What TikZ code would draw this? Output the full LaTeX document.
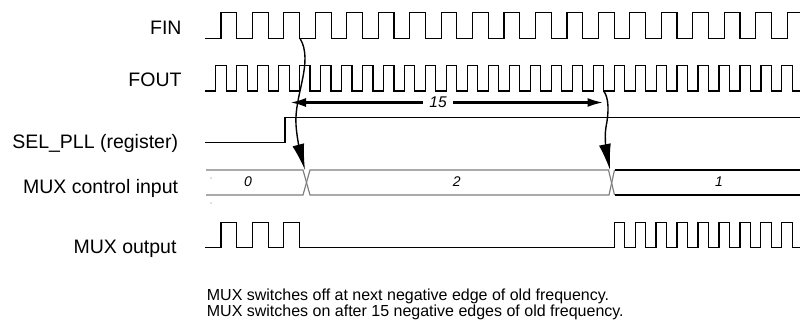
\documentclass[tikz,border=0pt]{standalone}
\usepackage{fontspec}
\setmainfont{Liberation Sans}
\usetikzlibrary{arrows.meta}
\definecolor{busgray}{RGB}{125,125,125}
\begin{document}
\begin{tikzpicture}[x=1pt,y=-1pt,
  wave/.style={line width=1.15pt, line join=miter, black},
  busg/.style={line width=1.15pt, busgray},
  lbl/.style={anchor=base east, inner sep=0pt, font=\fontsize{19.5}{22}\selectfont},
  note/.style={anchor=base west, inner sep=0pt, font=\fontsize{16}{19}\selectfont},
  busval/.style={inner sep=0pt, font=\fontsize{14}{16}\selectfont\itshape},
  dimarrow/.style={line width=2.6pt, {Latex[length=16pt,width=9pt]}-{Latex[length=16pt,width=9pt]}},
  curvearrow/.style={line width=1.4pt, -{Latex[length=26pt,width=12pt]}}]
\useasboundingbox (0,0) rectangle (800,329);

% signal labels
\node[lbl] (lfin)  at (181.7,35)  {FIN};
\node[lbl] (lfout) at (181.7,86.5) {FOUT};
\node[lbl] (lsel)  at (178.3,148) {SEL\_PLL (register)};
\node[lbl] (lmux)  at (178.3,193.5) {MUX control input};
\node[lbl] (lout)  at (176.7,253.5) {MUX output};

\begin{scope}
\clip (0,0) rectangle (800,329);
% FIN
\draw[wave] (205,38.3) -- (221,38.3)
  \foreach \k in {0,...,18} { -- ++(0,-26) -- ++(15.725,0) -- ++(0,26) -- ++(15.725,0) };
% FOUT
\draw[wave] (205,91) -- (215.7,91)
  \foreach \k in {0,...,27} { -- ++(0,-25.3) -- ++(10.485,0) -- ++(0,25.3) -- ++(10.485,0) };
% SEL_PLL
\draw[wave] (205,142.7) -- (285,142.7) -- (285,117.7) -- (800,117.7);
% MUX control input (bus)
\draw[busg] (206,170) -- (303,170) -- (310,195) -- (609,195) -- (614.5,170);
\draw[busg] (206,195) -- (303,195) -- (310,170) -- (608.5,170) -- (614.5,195);
\draw[wave] (614.5,170) -- (800,170);
\draw[wave] (614.5,195) -- (800,195);
% MUX output
\draw[wave] (205,247.7) -- (221,247.7)
  \foreach \k in {0,...,2} { -- ++(0,-25) -- ++(15.725,0) -- ++(0,25) -- ++(15.725,0) }
  -- (614.1,247.7)
  \foreach \k in {0,...,9} { -- ++(0,-25) -- ++(10.485,0) -- ++(0,25) -- ++(10.485,0) };
\end{scope}

\fill[busgray] (211,178) circle (0.6pt);
\fill[busgray] (211,203) circle (0.6pt);

% bus values
\node[busval] (v0) at (248,182) {0};
\node[busval] (v2) at (456.7,182) {2};
\node[busval] (v1) at (719,182) {1};

% 15 dimension
\coordinate (d15l) at (290,102.5);
\coordinate (d15r) at (603.5,102.5);
\draw[dimarrow] (d15l) -- (d15r);
\node[fill=white, inner xsep=6pt, inner ysep=0pt, font=\fontsize{15.5}{17}\selectfont\itshape] (n15) at (438,102.5) {15};

% curved arrows
\coordinate (c1s) at (300,38.3);
\coordinate (c1e) at (305,170);
\draw[curvearrow] (c1s) .. controls (314,62) and (294,95) .. (296,125)
  .. controls (297,140) and (301,155) .. (c1e);
\coordinate (c2s) at (603.7,91);
\coordinate (c2e) at (610,170);
\draw[curvearrow] (c2s) .. controls (609,98) and (609,112) .. (606,127)
  .. controls (604,138) and (607,155) .. (c2e);

% notes
\node[note] (t1) at (206.7,300) {MUX switches off at next negative edge of old frequency.};
\node[note] (t2) at (206.7,316) {MUX switches on after 15 negative edges of old frequency.};
\end{tikzpicture}
\end{document}
